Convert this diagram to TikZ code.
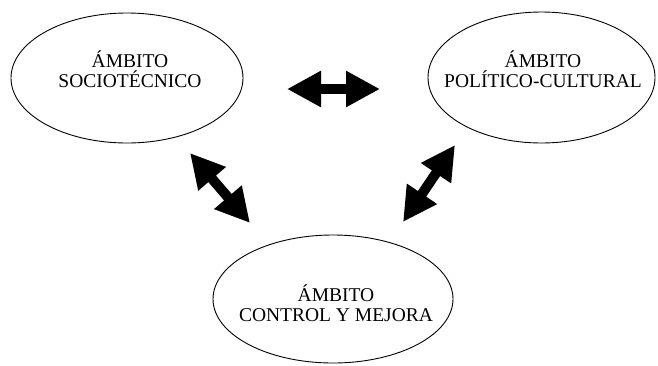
\documentclass[tikz,border=0pt]{standalone}
\usepackage{fontspec}
\setmainfont{Liberation Serif}
\usetikzlibrary{shapes.geometric,arrows.meta}
\begin{document}
\begin{tikzpicture}[x=1pt,y=-1pt,
  ambito/.style={ellipse,draw=black,line width=0.9pt,inner sep=0pt},
  lbl/.style={align=center,inner sep=0pt,font=\fontsize{19.5}{20.5}\selectfont},
  bigarrow/.style={line width=10pt,line cap=butt,
    {Triangle[length=34pt,width=34pt]}-{Triangle[length=34pt,width=34pt]}}]
\useasboundingbox (0,0) rectangle (658,365);
\node[ambito,minimum width=232pt,minimum height=130pt] (socio) at (127,78) {};
\node[ambito,minimum width=227pt,minimum height=131pt] (poli) at (541.5,77.5) {};
\node[ambito,minimum width=240pt,minimum height=128pt] (control) at (333,299) {};
\node[lbl] (tsocio) at (130,69) {ÁMBITO\\SOCIOTÉCNICO};
\node[lbl] (tpoli) at (543,69) {ÁMBITO\\POLÍTICO-CULTURAL};
\node[lbl] (tcontrol) at (336,303) {ÁMBITO\\CONTROL Y MEJORA};
\coordinate (h1) at (287,89);
\coordinate (h2) at (380,89);
\coordinate (d1) at (190,153);
\coordinate (d2) at (250,223);
\coordinate (e1) at (455,145);
\coordinate (e2) at (403,222);
\draw[bigarrow] (h1) -- (h2);
\draw[bigarrow] (d1) -- (d2);
\draw[bigarrow] (e1) -- (e2);
\end{tikzpicture}
\end{document}
